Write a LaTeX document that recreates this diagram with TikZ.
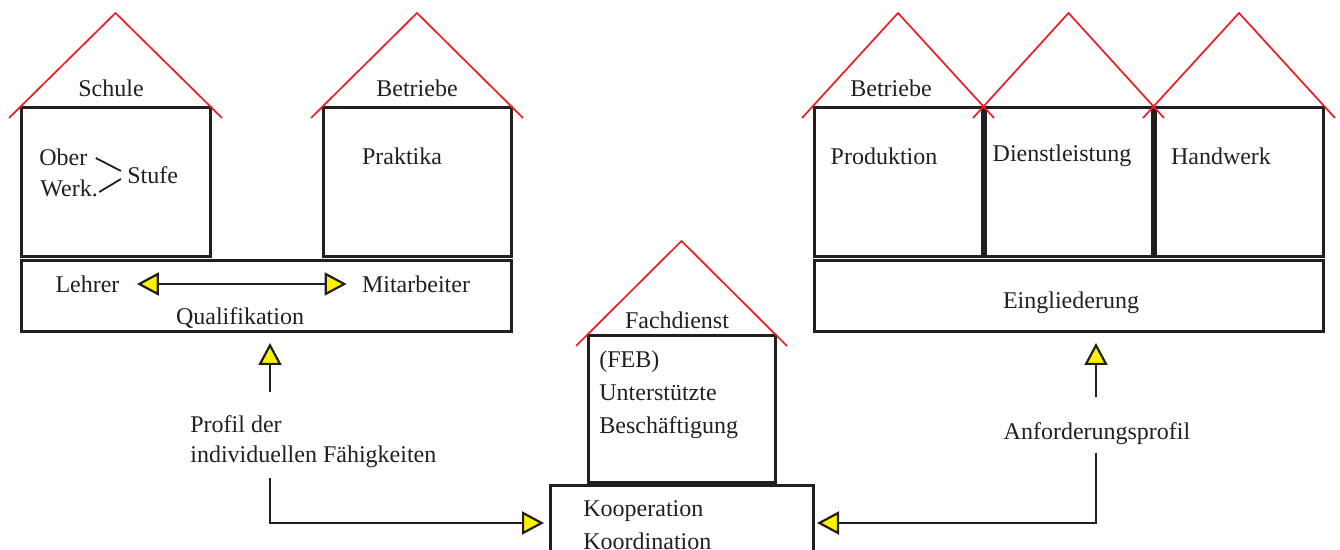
\documentclass[tikz,border=0pt]{standalone}
\usepackage{fontspec}
\setmainfont{Liberation Serif}
\usetikzlibrary{arrows.meta}
\definecolor{ink}{RGB}{35,31,32}
\definecolor{roofred}{RGB}{237,28,36}
\definecolor{tipyellow}{RGB}{255,242,0}
\tikzstyle{house} = [rectangle, draw=ink, line width=1.5pt, inner sep=0pt, outer sep=0pt]
\tikzstyle{roof} = [draw=roofred, line width=0.85pt]
\tikzstyle{txt} = [inner sep=0pt, text=ink, font=\fontsize{12}{16.5}\selectfont, align=left]
\tikzstyle{line} = [draw=ink, line width=1.1pt, -{Triangle[length=11pt,width=11.5pt,fill=tipyellow]}]
\tikzstyle{dline} = [draw=ink, line width=1.1pt, {Triangle[length=11pt,width=11.5pt,fill=tipyellow]}-{Triangle[length=11pt,width=11.5pt,fill=tipyellow]}]
\newcommand{\houseroof}[1]{\draw[roof] ([xshift=-6pt,yshift=-5pt]#1.north west) -- ([yshift=47.5pt]#1.north) -- ([xshift=6pt,yshift=-5pt]#1.north east);}

\begin{document}
\begin{tikzpicture}[x=0.5pt, y=-0.5pt]
        \useasboundingbox (0,0) rectangle (1340,550);
        \clip (0,0) rectangle (1340,550);
        % Schule / Betriebe (links)
        \node [house, minimum width=94.5pt, minimum height=74.5pt] (schule) at (115.5,182.5) {};
        \node [house, minimum width=94pt, minimum height=74.5pt] (praktika) at (417,182.5) {};
        \node [house, minimum width=245pt, minimum height=35.5pt] (qual) at (266,296.5) {};
        \houseroof{schule}
        \houseroof{praktika}
        \node [txt] (schuletxt) at (111,88) {Schule};
        \node [txt] (betrtxt) at (417,88) {Betriebe};
        \node [txt, anchor=west] (ober) at (39,157) {Ober};
        \node [txt, anchor=west] (werk) at (40,188) {Werk.};
        \node [txt, anchor=west] (stufe) at (127,175) {Stufe};
        \node [txt] (praktxt) at (402,156) {Praktika};
        \node [txt] (lehrer) at (87.5,284) {Lehrer};
        \node [txt] (mitarb) at (416,284) {Mitarbeiter};
        \node [txt] (qualtxt) at (240,318) {Qualifikation};
        % Fachdienst (Mitte)
        \node [house, minimum width=93.5pt, minimum height=73.5pt] (fach) at (681.5,409.5) {};
        \node [house, minimum width=131.5pt, minimum height=37pt] (koop) at (681.5,523) {};
        \houseroof{fach}
        \node [txt] (fachtxt) at (677,320) {Fachdienst};
        \node [txt, anchor=west] (feb) at (599,395) {(FEB)\\Unterstützte\\Beschäftigung};
        \node [txt, anchor=west] (kooptxt) at (583,525.5) {Kooperation\\Koordination};
        % Betriebe (rechts)
        \node [house, minimum width=84pt, minimum height=74.5pt] (prod) at (898,182.5) {};
        \node [house, minimum width=83.5pt, minimum height=74.5pt] (dienst) at (1068.5,182.5) {};
        \node [house, minimum width=84pt, minimum height=74.5pt] (handw) at (1239,182.5) {};
        \node [house, minimum width=254.5pt, minimum height=35.5pt] (eingl) at (1068.5,296.5) {};
        \houseroof{prod}
        \houseroof{dienst}
        \houseroof{handw}
        \node [txt] (betr2txt) at (891,88) {Betriebe};
        \node [txt] (prodtxt) at (884,156) {Produktion};
        \node [txt] (diensttxt) at (1062,156) {Dienstleistung};
        \node [txt] (handtxt) at (1221,156) {Handwerk};
        \node [txt] (eingltxt) at (1071,303) {Eingliederung};
        % Profile
        \node [txt, anchor=west, font=\fontsize{12}{15}\selectfont] (profil) at (190,442) {Profil der\\individuellen Fähigkeiten};
        \node [txt] (anford) at (1097,434) {Anforderungsprofil};
        \coordinate (pa) at (270,392);
        \coordinate (pb) at (270,478);
        \coordinate (aa) at (1096,397);
        \coordinate (ab) at (1096,453);
        % Draw edges
        \draw [ink, line width=0.9pt] ([xshift=4pt,yshift=-0.5pt]ober.east) -- ([xshift=-3pt,yshift=2pt]stufe.west);
        \draw [ink, line width=0.9pt] ([xshift=0.5pt,yshift=-2pt]werk.east) -- ([xshift=-3pt,yshift=-2pt]stufe.west);
        \path [dline] ([xshift=8.5pt]lehrer.east) -- ([xshift=-7.5pt]mitarb.west);
        \path [line, shorten >=5.5pt] (pa) -- (pa |- qual.south);
        \path [line, shorten >=5.5pt] (aa) -- (aa |- eingl.south);
        \path [line, shorten >=3pt] (pb) |- (koop.west);
        \path [line, shorten >=2pt] (ab) |- (koop.east);
    \end{tikzpicture}
\end{document}
